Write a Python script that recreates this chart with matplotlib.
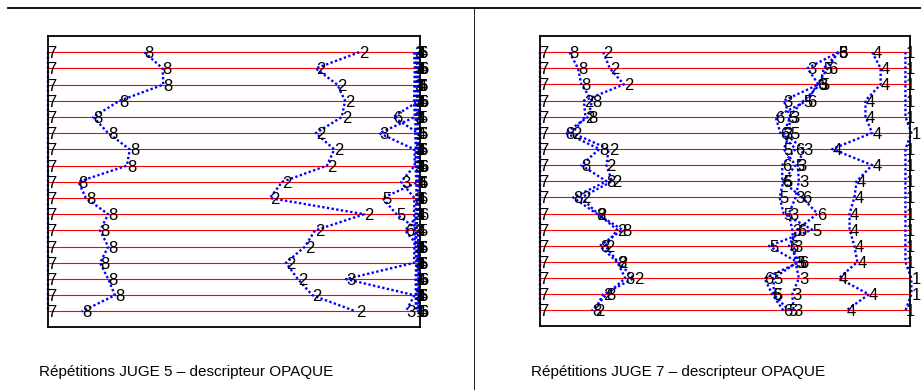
import matplotlib
matplotlib.use("Agg")
import matplotlib.pyplot as plt
from matplotlib.lines import Line2D

plt.rcParams['font.family'] = ['Liberation Sans', 'DejaVu Sans']

# repetitions (rows, top to bottom)
reps = list(range(1, 18))
products = ['1', '2', '3', '4', '5', '6', '7', '8']

# ---- JUGE 5 : position of each product on each repetition (0-10 scale)
j5_p1 = [9.88, 9.90, 9.88, 9.89, 9.88, 9.87, 9.89, 9.88, 9.90, 9.91, 9.88, 9.89, 9.88, 9.90, 9.88, 9.89, 9.88]
j5_p2 = [8.37, 7.20, 7.78, 7.99, 7.90, 7.20, 7.70, 7.50, 6.30, 5.97, 8.50, 7.18, 6.91, 6.40, 6.72, 7.11, 8.28]
j5_p3 = [9.84, 9.86, 9.85, 9.84, 9.86, 8.91, 9.85, 9.86, 9.49, 9.85, 9.84, 9.86, 9.85, 9.84, 8.01, 9.85, 9.62]
j5_p4 = [9.92, 9.90, 9.93, 9.91, 9.90, 9.92, 9.90, 9.91, 9.93, 9.90, 9.92, 9.91, 9.90, 9.92, 9.91, 9.90, 9.92]
j5_p5 = [9.97, 9.95, 9.96, 9.97, 9.95, 9.96, 9.97, 9.95, 9.96, 8.99, 9.37, 9.96, 9.95, 9.97, 9.96, 9.97, 9.95]
j5_p6 = [9.96, 9.97, 9.95, 9.97, 9.28, 9.96, 9.95, 9.97, 9.96, 9.95, 9.97, 9.60, 9.96, 9.95, 9.97, 9.96, 9.97]
j5_p7 = [0, 0, 0, 0, 0, 0, 0, 0, 0, 0, 0, 0, 0, 0, 0, 0, 0]
j5_p8 = [2.60, 3.09, 3.11, 1.93, 1.23, 1.63, 2.21, 2.13, 0.83, 1.03, 1.63, 1.41, 1.63, 1.41, 1.63, 1.81, 0.92]

# ---- JUGE 7
j7_p1 = [9.89, 9.89, 9.89, 9.89, 9.89, 10.05, 9.89, 9.89, 9.89, 9.89, 9.89, 9.89, 9.89, 9.89, 10.05, 10.05, 9.89]
j7_p2 = [1.72, 1.90, 2.28, 1.20, 1.24, 0.88, 1.87, 1.81, 1.96, 1.13, 1.57, 2.10, 1.78, 2.12, 2.55, 1.72, 1.49]
j7_p3 = [8.08, 7.24, 7.54, 6.60, 6.78, 6.60, 7.14, 6.98, 7.01, 6.92, 6.74, 6.83, 6.87, 6.92, 7.01, 6.83, 6.87]
j7_p4 = [8.99, 9.22, 9.22, 8.81, 8.81, 8.99, 7.91, 8.99, 8.57, 8.51, 8.38, 8.38, 8.51, 8.59, 8.09, 8.90, 8.29]
j7_p5 = [8.09, 7.68, 7.59, 7.14, 6.74, 6.78, 6.60, 6.92, 6.59, 6.49, 6.60, 7.37, 6.20, 6.97, 6.33, 6.33, 6.74]
j7_p6 = [8.07, 7.79, 7.51, 7.24, 6.38, 6.51, 6.92, 6.56, 6.56, 7.10, 7.51, 6.96, 6.74, 7.03, 6.08, 6.29, 6.59]
j7_p7 = [0, 0, 0, 0, 0, 0, 0, 0, 0, 0, 0, 0, 0, 0, 0, 0, 0]
j7_p8 = [0.81, 1.04, 1.13, 1.42, 1.32, 0.70, 1.62, 1.13, 1.81, 0.91, 1.54, 2.24, 1.63, 2.10, 2.32, 1.81, 1.42]

titles = ["Répétitions JUGE 5 – descripteur OPAQUE",
          "Répétitions JUGE 7 – descripteur OPAQUE"]

panels = [
    [j5_p1, j5_p2, j5_p3, j5_p4, j5_p5, j5_p6, j5_p7, j5_p8],
    [j7_p1, j7_p2, j7_p3, j7_p4, j7_p5, j7_p6, j7_p7, j7_p8],
]

fig = plt.figure(figsize=(9.21, 3.90), dpi=100)
boxes = [[47.5 / 921, 1 - 327 / 390, 372.5 / 921, 291 / 390],
         [539.5 / 921, 1 - 326 / 390, 370 / 921, 290 / 390]]
cap_x = [186 / 921, 678 / 921]

for box, series, title, cx in zip(boxes, panels, titles, cap_x):
    ax = fig.add_axes(box)
    ax.set_xlim(0, 10)
    ax.set_ylim(17.96, 0.0)
    for r in reps:
        ax.axhline(r, color='red', lw=0.8, zorder=1)
    for vals in series:
        ax.plot(vals, reps, color='blue', lw=1.7, linestyle=(0, (1, 1)),
                zorder=2, clip_on=False)
    for lab, vals in zip(products, series):
        for v, r in zip(vals, reps):
            ax.text(v, r, lab, ha='left', va='center_baseline', fontsize=12,
                    color='black', zorder=3, clip_on=False)
    ax.set_xticks([])
    ax.set_yticks([])
    for s in ax.spines.values():
        s.set_linewidth(1.3)
        s.set_color('black')
        s.set_zorder(4)
    fig.text(cx, 0.046, title, ha='center', va='center', fontsize=11,
             family=['Liberation Sans Narrow', 'Liberation Sans', 'DejaVu Sans'])

fig.add_artist(Line2D([8 / 921, 1.0], [1 - 8 / 390, 1 - 8 / 390], color='black',
                      lw=1.3, transform=fig.transFigure))
fig.add_artist(Line2D([474 / 921, 474 / 921], [0, 1 - 8 / 390], color='black',
                      lw=0.6, transform=fig.transFigure))

fig.savefig("out.png", dpi=100, facecolor='white')
